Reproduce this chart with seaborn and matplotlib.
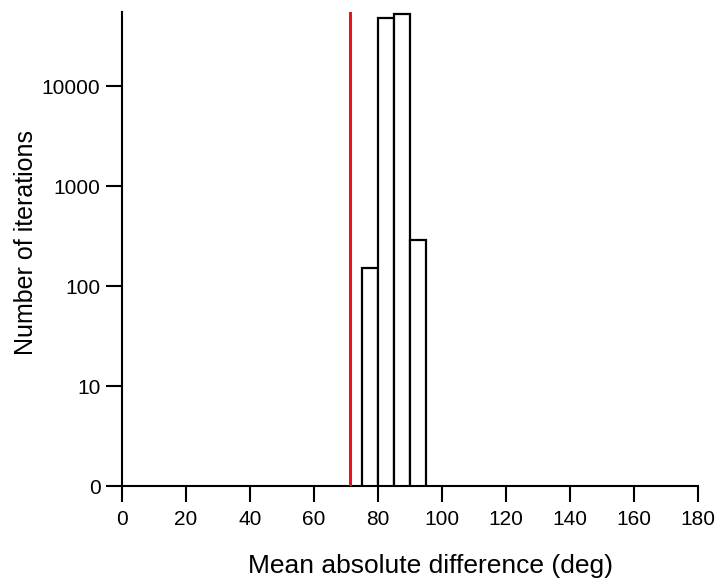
import numpy as np
import matplotlib
matplotlib.use("Agg")
import matplotlib.pyplot as plt
import seaborn as sns

# histogram of mean absolute difference (5 deg bins)
bin_left = [75, 80, 85, 90]
counts = [150, 47500, 52500, 288]
bin_width = 5
observed = 71.2

x_ticks = list(range(0, 181, 20))
y_ticks = [1, 10, 100, 1000, 10000]
y_ticklabels = ["0", "10", "100", "1000", "10000"]

sns.set_style("ticks")
plt.rcParams["font.family"] = ["Liberation Sans", "DejaVu Sans"]
for k in ["text.color", "axes.labelcolor", "xtick.color", "ytick.color", "axes.edgecolor"]:
    plt.rcParams[k] = "black"

fig = plt.figure(figsize=(7.21, 5.81), dpi=100)
ax = fig.add_axes([0.1692, 0.1635, 0.799, 0.8158])

edges = bin_left + [bin_left[-1] + bin_width]
centers = [b + bin_width / 2 for b in bin_left]
sns.histplot(x=centers, weights=counts, bins=edges, ax=ax,
             color="white", edgecolor="black", linewidth=1.6, alpha=1)

ax.axvline(observed, color="#e8141c", linewidth=2.2, zorder=5)

ax.set_yscale("log")
ax.set_ylim(1, 55000)
ax.set_xlim(0, 180)
ax.set_xticks(x_ticks)
ax.set_yticks(y_ticks)
ax.set_yticklabels(y_ticklabels)
ax.minorticks_off()

for s in ["top", "right"]:
    ax.spines[s].set_visible(False)
for s in ["left", "bottom"]:
    ax.spines[s].set_linewidth(1.5)
ax.tick_params(axis="both", length=11.5, width=1.5, labelsize=15)
ax.tick_params(axis="x", pad=6)
ax.tick_params(axis="y", pad=4)

ax.set_xlabel("Mean absolute difference (deg)", fontsize=19, labelpad=18)
ax.set_ylabel("Number of iterations", fontsize=18, labelpad=3)
ax.xaxis.label.set_x(0.535)
ax.yaxis.label.set_y(0.514)

fig.savefig("out.png", dpi=100)
